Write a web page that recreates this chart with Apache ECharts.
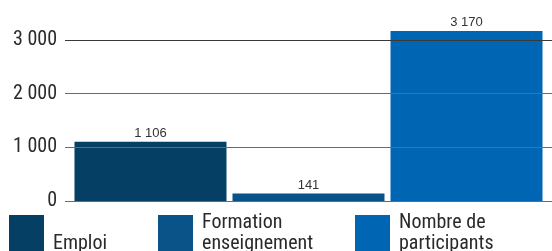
<!DOCTYPE html>
<html>
<head>
<meta charset="utf-8">
<script src="https://cdn.jsdelivr.net/npm/echarts@6/dist/echarts.min.js"></script>
<style>html,body{margin:0;padding:0;background:#fff;}#c{width:552px;height:251px;}</style>
</head>
<body>
<div id="c"></div>
<script>
const seriesNames = ['Emploi', 'Formation enseignement', 'Nombre de participants'];
const legendLabels = ['\nEmploi', 'Formation\nenseignement', 'Nombre de\nparticipants'];
const values = [1106, 141, 3170];
const colors = ['#053f63', '#0a5389', '#0066b3'];
const yTicks = [0, 1000, 2000, 3000];

const chart = echarts.init(document.getElementById('c'), null, {renderer: 'canvas'});
const fmt = v => String(v).replace(/\B(?=(\d{3})+(?!\d))/g, ' ');
const legendLeft = [9, 158, 355];
const narrow = "'Roboto Condensed', 'DejaVu Sans Condensed', Roboto, sans-serif";
const option = {
  animation: false,
  grid: {left: 65, right: 0, top: 40, bottom: 50},
  xAxis: {type: 'category', data: [''], axisLine: {show: false}, axisTick: {show: false}, axisLabel: {show: false}},
  yAxis: {
    type: 'value', min: yTicks[0], max: yTicks[yTicks.length - 1], interval: 1000, z: 10,
    axisLine: {show: false}, axisTick: {show: false},
    axisLabel: {formatter: v => fmt(v), fontFamily: narrow, fontSize: 20, color: '#2a2a2a', margin: 8},
    splitLine: {lineStyle: {color: ['#6a6a6a', '#6a6a6a', '#6a6a6a', '#3a3a3a'], width: 1}}
  },
  legend: seriesNames.map((n, i) => ({
    data: [n], left: legendLeft[i], top: 210.5, padding: 0, itemWidth: 35, itemHeight: 37,
    icon: 'rect', selectedMode: false,
    formatter: () => legendLabels[i],
    textStyle: {fontFamily: narrow, fontSize: 20, lineHeight: 21, color: '#2a2a2a', padding: [0, 0, 4, 4]}
  })),
  series: seriesNames.map((n, i) => ({
    name: n, type: 'bar', data: [values[i]], barWidth: 152, barGap: '3.95%', clip: false,
    itemStyle: {color: colors[i]},
    label: {show: true, position: 'top', distance: 2, formatter: p => fmt(p.value), fontFamily: 'Liberation Sans', fontSize: 13, color: '#333'}
  }))
};
chart.setOption(option);
</script>
</body>
</html>
